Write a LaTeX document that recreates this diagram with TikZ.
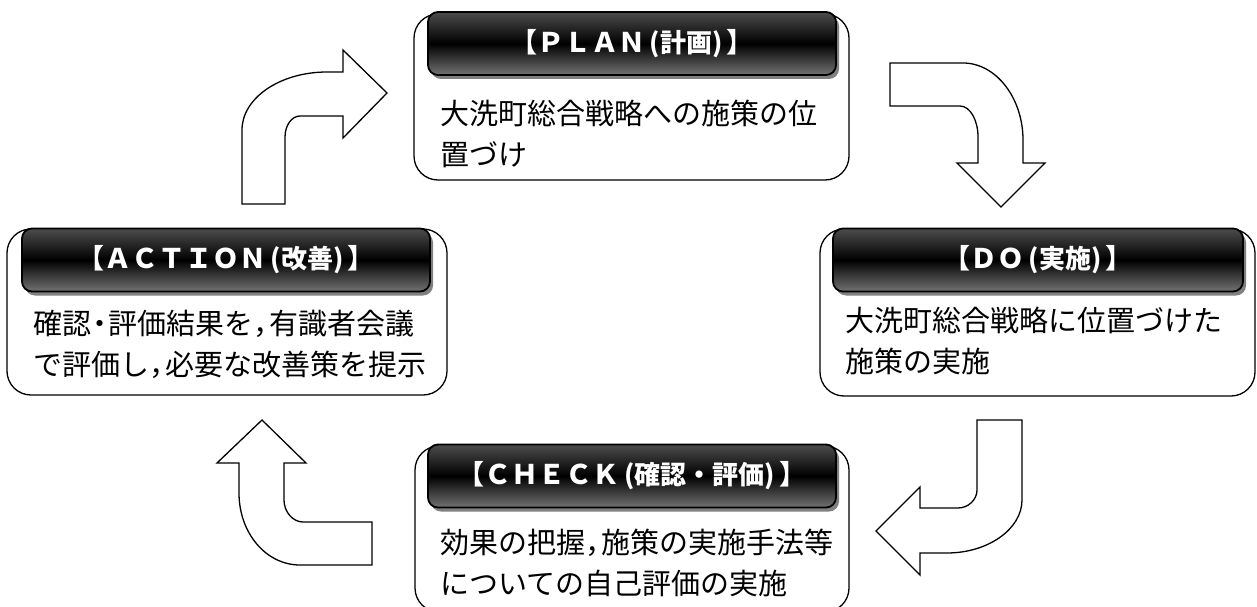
\documentclass[tikz,border=0pt]{standalone}
\usepackage{fontspec}
\setmainfont{Noto Sans CJK JP}
\usepackage{tikz}
\usetikzlibrary{shadows}

\begin{document}
\begin{tikzpicture}[x=1pt, y=-1pt]
		\tikzset{cyclebox/.style={rectangle, rounded corners=24pt, draw=black, line width=1.3pt, fill=white, inner sep=0}}
		\tikzset{headbar/.style={rectangle, rounded corners=10pt, draw=black, line width=1.8pt, top color=black!70, bottom color=black!55, middle color=black, drop shadow={shadow xshift=3pt, shadow yshift=-4pt, fill=black!50, opacity=1}, minimum width=408, minimum height=63, inner sep=0, text=white, font=\fontsize{27}{30}\selectfont\bfseries}}
		\tikzset{bodytext/.style={anchor=west, align=left, inner sep=0, font=\fontsize{29}{41}\selectfont}}
		\tikzset{blockarrow/.style={draw=black, line width=1.3pt, fill=white}}
		\newcommand{\paren}[1]{{\fontsize{26}{28}\selectfont\,(#1)\,}}
		\newcommand{\hw}[1]{\makebox[0.55em][l]{#1}}
		\newcommand{\hdot}{\makebox[0.6em][c]{・}}
		\useasboundingbox (0,0) rectangle (1257,607);

		% PLAN
		\node[cyclebox, minimum width=435, minimum height=166] (planbox) at (631.5,97) {};
		\node[headbar] (planhead) at (632,43.5) {【ＰＬＡＮ\paren{計画}】};
		\node[bodytext] (plantext) at (440,133.5) {大洗町総合戦略への施策の位\\置づけ};

		% DO
		\node[cyclebox, minimum width=435, minimum height=167] (dobox) at (1037.5,312.5) {};
		\node[headbar, minimum width=410] (dohead) at (1038,260) {【ＤＯ\paren{実施}】};
		\node[bodytext] (dotext) at (845,341) {大洗町総合戦略に位置づけた\\施策の実施};

		% CHECK
		\node[cyclebox, minimum width=434, minimum height=166] (checkbox) at (632,529) {};
		\node[headbar] (checkhead) at (632,476) {【ＣＨＥＣＫ\paren{確認・評価}】};
		\node[bodytext] (checktext) at (440,563) {効果の把握\hw{，}施策の実施手法等\\についての自己評価の実施};

		% ACTION
		\node[cyclebox, minimum width=440, minimum height=166] (actbox) at (227,312) {};
		\node[headbar] (acthead) at (226,260) {【ＡＣＴＩＯＮ\paren{改善}】};
		\node[bodytext] (acttext) at (33,344) {確認\hdot 評価結果を\hw{，}有識者会議\\で評価し\hw{，}必要な改善策を提示};

		% arrows between the steps
		\draw[blockarrow] (242,204) -- (242,130) .. controls (242,98) and (280,72) .. (327,72) -- (343,72) -- (343,50) -- (387,93) -- (343,138) -- (343,116) -- (300,116) .. controls (292,116) and (285,125) .. (285,137) -- (285,204) -- cycle;
		\draw[blockarrow] (890,63) -- (963,63) .. controls (996,63) and (1023,98) .. (1023,140) -- (1023,163) -- (1045,163) -- (1001,207) -- (957,163) -- (978,163) -- (978,137) .. controls (978,120) and (970,106) .. (960,106) -- (890,106) -- cycle;
		\draw[blockarrow] (977,420) -- (1022,420) -- (1022,500) .. controls (1022,529) and (988,553) .. (947,553) -- (920,553) -- (920,575) -- (876,531) -- (920,487) -- (920,508) -- (958,508) .. controls (968,508) and (977,500) .. (977,490) -- cycle;
		\draw[blockarrow] (262,420) -- (306,463) -- (284,463) -- (284,500) .. controls (284,512) and (293,522) .. (303,522) -- (372,522) -- (372,565) -- (300,565) .. controls (266,565) and (239,533) .. (239,493) -- (239,463) -- (217,463) -- cycle;

\end{tikzpicture}
\end{document}
